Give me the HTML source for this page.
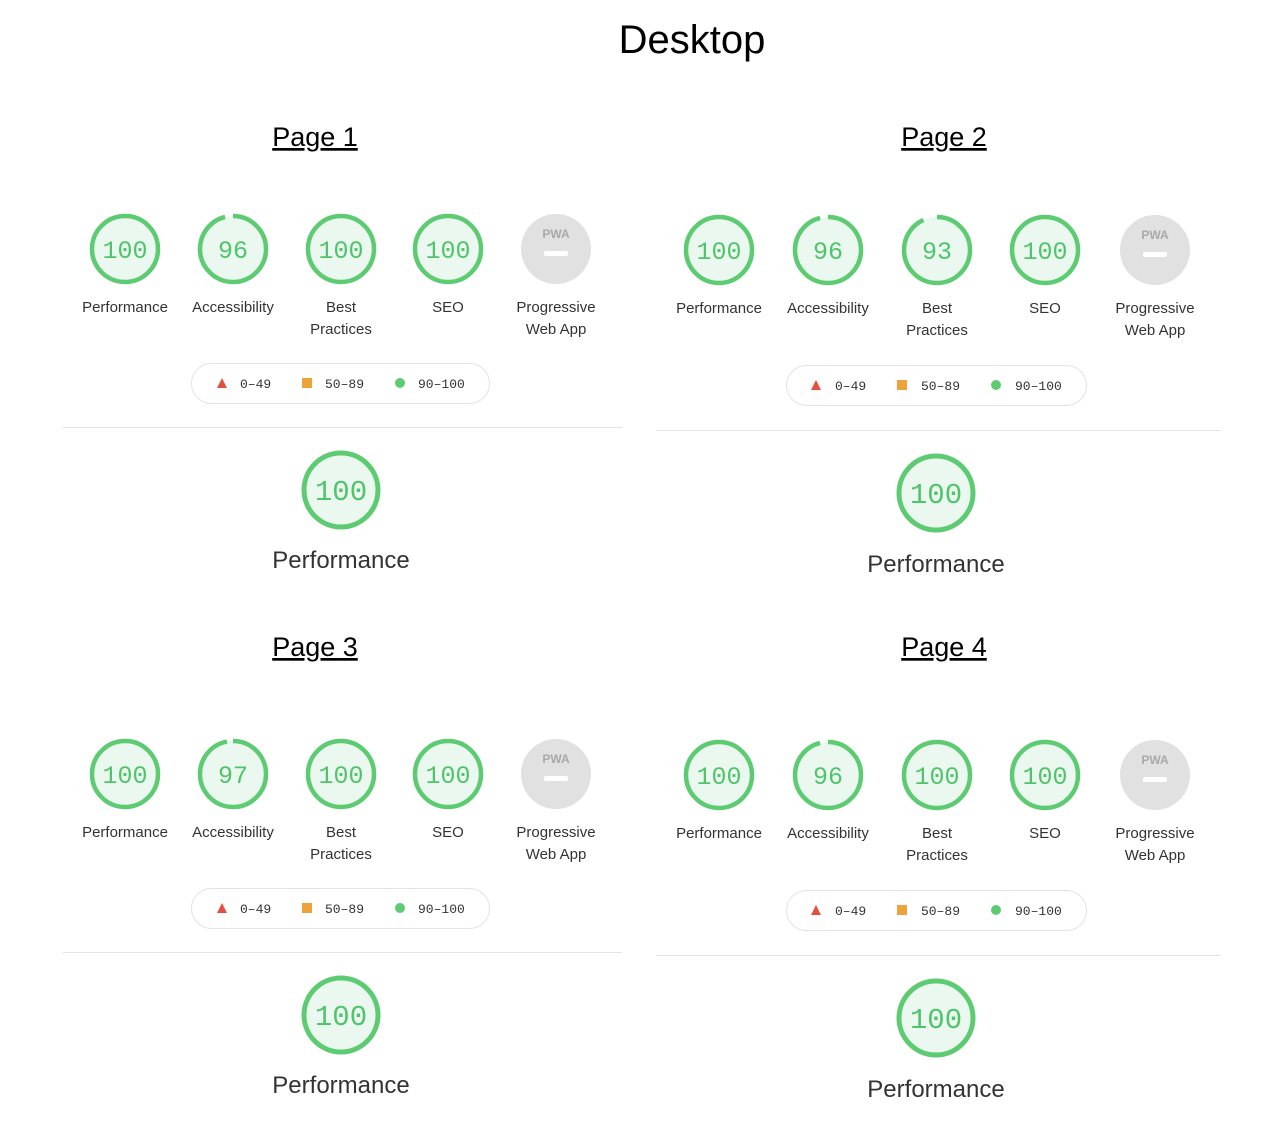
<!DOCTYPE html>
<html><head><meta charset="utf-8"><style>
html,body{margin:0;padding:0;background:#fff;}
svg{display:block}
.lab{font-family:"Liberation Sans",sans-serif;font-size:15px;fill:#333;text-anchor:middle}
.num{font-family:"Liberation Mono",monospace;font-size:25px;fill:#4fc46b;text-anchor:middle}
.bnum{font-family:"Liberation Mono",monospace;font-size:29px;fill:#4fc46b;text-anchor:middle}
.leg{font-family:"Liberation Mono",monospace;font-size:13px;fill:#333}
.pg{font-family:"Liberation Sans",sans-serif;font-size:27px;fill:#000;text-anchor:middle;text-decoration:underline}
.big{font-family:"Liberation Sans",sans-serif;font-size:24px;fill:#333;text-anchor:middle}
.pwa{font-family:"Liberation Sans",sans-serif;font-size:12px;font-weight:bold;fill:#a9a9a9;text-anchor:middle}
</style></head><body>
<svg width="1288" height="1144" viewBox="0 0 1288 1144" xmlns="http://www.w3.org/2000/svg">
<text x="692" y="53" font-family="Liberation Sans, sans-serif" font-size="40" text-anchor="middle" fill="#000">Desktop</text>
<text class="pg" x="315" y="146">Page 1</text>
<text class="pg" x="944" y="146">Page 2</text>
<text class="pg" x="315" y="656">Page 3</text>
<text class="pg" x="944" y="656">Page 4</text>

<g id="p1">
<circle cx="125" cy="249" r="33" fill="#ebf8ef" stroke="#5dcb71" stroke-width="4.5"/>
<text class="num" x="125" y="258">100</text>
<circle cx="233" cy="249" r="33" fill="#ebf8ef"/>
<circle cx="233" cy="249" r="33" fill="none" stroke="#5dcb71" stroke-width="4.5" stroke-dasharray="199 300" transform="rotate(-90 233 249)"/>
<text class="num" x="233" y="258">96</text>
<circle cx="341" cy="249" r="33" fill="#ebf8ef" stroke="#5dcb71" stroke-width="4.5"/>
<text class="num" x="341" y="258">100</text>
<circle cx="448" cy="249" r="33" fill="#ebf8ef" stroke="#5dcb71" stroke-width="4.5"/>
<text class="num" x="448" y="258">100</text>
<circle cx="556" cy="249" r="35" fill="#e1e1e1"/>
<text class="pwa" x="556" y="238">PWA</text>
<rect x="544" y="251" width="24" height="5" rx="2" fill="#fff"/>
<text class="lab" x="125" y="312">Performance</text>
<text class="lab" x="233" y="312">Accessibility</text>
<text class="lab" x="341" y="312">Best</text>
<text class="lab" x="341" y="334">Practices</text>
<text class="lab" x="448" y="312">SEO</text>
<text class="lab" x="556" y="312">Progressive</text>
<text class="lab" x="556" y="334">Web App</text>
<rect x="191.5" y="363.5" width="298" height="40" rx="20" fill="#fff" stroke="#e3e3e3"/>
<polygon points="222,378 227,388 217,388" fill="#e4503f"/>
<text class="leg" x="240" y="388">0–49</text>
<rect x="302" y="378" width="10" height="10" fill="#eda33a"/>
<text class="leg" x="325" y="388">50–89</text>
<circle cx="400" cy="383" r="5" fill="#5dcb71"/>
<text class="leg" x="418" y="388">90–100</text>
<line x1="63" y1="427.5" x2="622" y2="427.5" stroke="#e3e3e3"/>
<circle cx="341" cy="490" r="37" fill="#ebf8ef" stroke="#5dcb71" stroke-width="5"/>
<text class="bnum" x="341" y="500">100</text>
<text class="big" x="341" y="568">Performance</text>
</g>

<g id="p2">
<circle cx="719" cy="250" r="33" fill="#ebf8ef" stroke="#5dcb71" stroke-width="4.5"/>
<text class="num" x="719" y="259">100</text>
<circle cx="828" cy="250" r="33" fill="#ebf8ef"/>
<circle cx="828" cy="250" r="33" fill="none" stroke="#5dcb71" stroke-width="4.5" stroke-dasharray="199 300" transform="rotate(-90 828 250)"/>
<text class="num" x="828" y="259">96</text>
<circle cx="937" cy="250" r="33" fill="#ebf8ef"/>
<circle cx="937" cy="250" r="33" fill="none" stroke="#5dcb71" stroke-width="4.5" stroke-dasharray="193 300" transform="rotate(-90 937 250)"/>
<text class="num" x="937" y="259">93</text>
<circle cx="1045" cy="250" r="33" fill="#ebf8ef" stroke="#5dcb71" stroke-width="4.5"/>
<text class="num" x="1045" y="259">100</text>
<circle cx="1155" cy="250" r="35" fill="#e1e1e1"/>
<text class="pwa" x="1155" y="239">PWA</text>
<rect x="1143" y="252" width="24" height="5" rx="2" fill="#fff"/>
<text class="lab" x="719" y="313">Performance</text>
<text class="lab" x="828" y="313">Accessibility</text>
<text class="lab" x="937" y="313">Best</text>
<text class="lab" x="937" y="335">Practices</text>
<text class="lab" x="1045" y="313">SEO</text>
<text class="lab" x="1155" y="313">Progressive</text>
<text class="lab" x="1155" y="335">Web App</text>
<rect x="786.5" y="365.5" width="300" height="40" rx="20" fill="#fff" stroke="#e3e3e3"/>
<polygon points="816,380 821,390 811,390" fill="#e4503f"/>
<text class="leg" x="835" y="390">0–49</text>
<rect x="897" y="380" width="10" height="10" fill="#eda33a"/>
<text class="leg" x="921" y="390">50–89</text>
<circle cx="996" cy="385" r="5" fill="#5dcb71"/>
<text class="leg" x="1015" y="390">90–100</text>
<line x1="656" y1="430.5" x2="1221" y2="430.5" stroke="#e3e3e3"/>
<circle cx="936" cy="493" r="37" fill="#ebf8ef" stroke="#5dcb71" stroke-width="5"/>
<text class="bnum" x="936" y="503">100</text>
<text class="big" x="936" y="572">Performance</text>
</g>

<g transform="translate(0,525)">
<circle cx="125" cy="249" r="33" fill="#ebf8ef" stroke="#5dcb71" stroke-width="4.5"/>
<text class="num" x="125" y="258">100</text>
<circle cx="233" cy="249" r="33" fill="#ebf8ef"/>
<circle cx="233" cy="249" r="33" fill="none" stroke="#5dcb71" stroke-width="4.5" stroke-dasharray="201 300" transform="rotate(-90 233 249)"/>
<text class="num" x="233" y="258">97</text>
<circle cx="341" cy="249" r="33" fill="#ebf8ef" stroke="#5dcb71" stroke-width="4.5"/>
<text class="num" x="341" y="258">100</text>
<circle cx="448" cy="249" r="33" fill="#ebf8ef" stroke="#5dcb71" stroke-width="4.5"/>
<text class="num" x="448" y="258">100</text>
<circle cx="556" cy="249" r="35" fill="#e1e1e1"/>
<text class="pwa" x="556" y="238">PWA</text>
<rect x="544" y="251" width="24" height="5" rx="2" fill="#fff"/>
<text class="lab" x="125" y="312">Performance</text>
<text class="lab" x="233" y="312">Accessibility</text>
<text class="lab" x="341" y="312">Best</text>
<text class="lab" x="341" y="334">Practices</text>
<text class="lab" x="448" y="312">SEO</text>
<text class="lab" x="556" y="312">Progressive</text>
<text class="lab" x="556" y="334">Web App</text>
<rect x="191.5" y="363.5" width="298" height="40" rx="20" fill="#fff" stroke="#e3e3e3"/>
<polygon points="222,378 227,388 217,388" fill="#e4503f"/>
<text class="leg" x="240" y="388">0–49</text>
<rect x="302" y="378" width="10" height="10" fill="#eda33a"/>
<text class="leg" x="325" y="388">50–89</text>
<circle cx="400" cy="383" r="5" fill="#5dcb71"/>
<text class="leg" x="418" y="388">90–100</text>
<line x1="63" y1="427.5" x2="622" y2="427.5" stroke="#e3e3e3"/>
<circle cx="341" cy="490" r="37" fill="#ebf8ef" stroke="#5dcb71" stroke-width="5"/>
<text class="bnum" x="341" y="500">100</text>
<text class="big" x="341" y="568">Performance</text>
</g>

<g transform="translate(0,525)">
<circle cx="719" cy="250" r="33" fill="#ebf8ef" stroke="#5dcb71" stroke-width="4.5"/>
<text class="num" x="719" y="259">100</text>
<circle cx="828" cy="250" r="33" fill="#ebf8ef"/>
<circle cx="828" cy="250" r="33" fill="none" stroke="#5dcb71" stroke-width="4.5" stroke-dasharray="199 300" transform="rotate(-90 828 250)"/>
<text class="num" x="828" y="259">96</text>
<circle cx="937" cy="250" r="33" fill="#ebf8ef" stroke="#5dcb71" stroke-width="4.5"/>
<text class="num" x="937" y="259">100</text>
<circle cx="1045" cy="250" r="33" fill="#ebf8ef" stroke="#5dcb71" stroke-width="4.5"/>
<text class="num" x="1045" y="259">100</text>
<circle cx="1155" cy="250" r="35" fill="#e1e1e1"/>
<text class="pwa" x="1155" y="239">PWA</text>
<rect x="1143" y="252" width="24" height="5" rx="2" fill="#fff"/>
<text class="lab" x="719" y="313">Performance</text>
<text class="lab" x="828" y="313">Accessibility</text>
<text class="lab" x="937" y="313">Best</text>
<text class="lab" x="937" y="335">Practices</text>
<text class="lab" x="1045" y="313">SEO</text>
<text class="lab" x="1155" y="313">Progressive</text>
<text class="lab" x="1155" y="335">Web App</text>
<rect x="786.5" y="365.5" width="300" height="40" rx="20" fill="#fff" stroke="#e3e3e3"/>
<polygon points="816,380 821,390 811,390" fill="#e4503f"/>
<text class="leg" x="835" y="390">0–49</text>
<rect x="897" y="380" width="10" height="10" fill="#eda33a"/>
<text class="leg" x="921" y="390">50–89</text>
<circle cx="996" cy="385" r="5" fill="#5dcb71"/>
<text class="leg" x="1015" y="390">90–100</text>
<line x1="656" y1="430.5" x2="1221" y2="430.5" stroke="#e3e3e3"/>
<circle cx="936" cy="493" r="37" fill="#ebf8ef" stroke="#5dcb71" stroke-width="5"/>
<text class="bnum" x="936" y="503">100</text>
<text class="big" x="936" y="572">Performance</text>
</g>
</svg>
</body></html>
